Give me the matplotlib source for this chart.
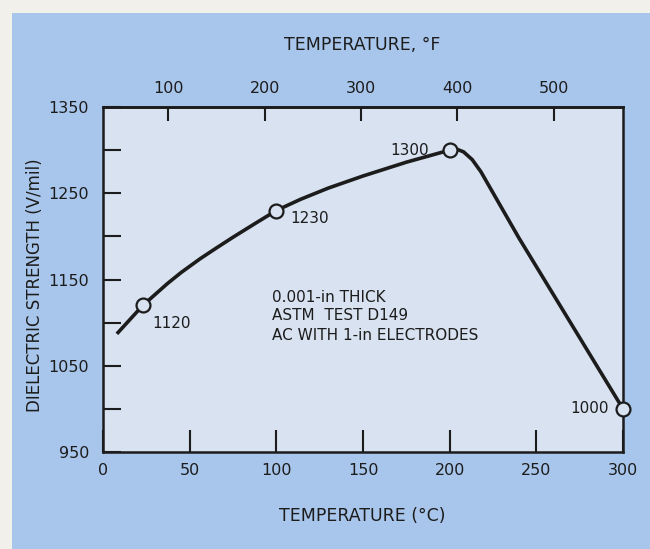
import matplotlib.pyplot as plt
from matplotlib.patches import Rectangle

# curve of dielectric strength vs temperature
temp_c = [8, 23, 37, 45, 56, 65, 75, 87, 100, 114, 130, 150, 175, 200, 203, 208, 213, 218, 222, 240, 270, 300]
strength = [1087, 1120, 1145, 1158, 1174, 1186, 1199, 1214, 1230, 1243, 1256, 1270, 1286, 1300,
            1302, 1298, 1289, 1275, 1261, 1198, 1099, 1000]

# measured points marked with circles
point_t = [23, 100, 200, 300]
point_v = [1120, 1230, 1300, 1000]
point_lbl = ["1120", "1230", "1300", "1000"]
lbl_offset = [(7, -13), (10, -6), (-15, 0), (-10, 0)]
lbl_align = ["left", "left", "right", "right"]

x_ticks = [0, 50, 100, 150, 200, 250, 300]
y_ticks = [950, 1000, 1050, 1100, 1150, 1200, 1250, 1300, 1350]
y_labels = ["950", "", "1050", "", "1150", "", "1250", "", "1350"]
f_ticks = [100, 200, 300, 400, 500]

notes = ["0.001-in THICK", "ASTM  TEST D149", "AC WITH 1-in ELECTRODES"]

ink = "#1c1c1c"
blue = "#a8c6eb"
panel = "#d8e2f0"
paper = "#f1f0ea"

plt.rcParams['font.family'] = ['DejaVu Sans']
fig = plt.figure(figsize=(6.5, 5.49), dpi=100, facecolor=paper)
fig.patches.append(Rectangle((12 / 650, 0), 1, 1 - 13 / 549, transform=fig.transFigure,
                             facecolor=blue, edgecolor="none", zorder=-1))

ax = fig.add_axes([103 / 650, 97 / 549, 520 / 650, 345 / 549])
ax.set_facecolor(panel)
ax.set_xlim(0, 300)
ax.set_ylim(950, 1350)

for s in ax.spines.values():
    s.set_linewidth(1.8)
    s.set_color(ink)

ax.plot(temp_c, strength, color=ink, lw=2.6, solid_joinstyle="round", solid_capstyle="butt", zorder=3)
ax.plot(point_t, point_v, "o", ms=10, mfc=panel, mec=ink, mew=1.6, zorder=4, clip_on=False)

for t, v, s, off, ha in zip(point_t, point_v, point_lbl, lbl_offset, lbl_align):
    ax.annotate(s, (t, v), xytext=off, textcoords="offset points", ha=ha, va="center",
                fontsize=11, color=ink)

ax.set_xticks(x_ticks)
ax.set_yticks(y_ticks)
ax.set_yticklabels(y_labels)
ax.tick_params(axis="x", direction="in", length=16, width=1.5, pad=8, labelsize=11.5,
               colors=ink)
ax.tick_params(axis="y", direction="in", length=13, width=1.5, pad=10, labelsize=11.5,
               colors=ink)

# Fahrenheit scale along the top
top = ax.secondary_xaxis("top", functions=(lambda c: c * 9 / 5 + 32, lambda f: (f - 32) * 5 / 9))
top.set_xticks(f_ticks)
top.tick_params(direction="in", length=10, width=1.5, pad=8, labelsize=11.5, colors=ink)
top.spines["top"].set_linewidth(1.8)

for i, line in enumerate(notes):
    ax.text(272 / 650, 1 - (297 + 19 * i) / 549, line, transform=fig.transFigure,
            fontsize=11, color=ink, va="center", ha="left")

fig.text(362 / 650, 1 - 45 / 549, "TEMPERATURE, °F", fontsize=12.5, color=ink, ha="center", va="center")
fig.text(362 / 650, 1 - 516 / 549, "TEMPERATURE (°C)", fontsize=12.5, color=ink, ha="center", va="center")
fig.text(35 / 650, 1 - 285 / 549, "DIELECTRIC STRENGTH (V/mil)", fontsize=12, color=ink,
         ha="center", va="center", rotation=90)

fig.savefig("out.png", dpi=100, facecolor=paper)
